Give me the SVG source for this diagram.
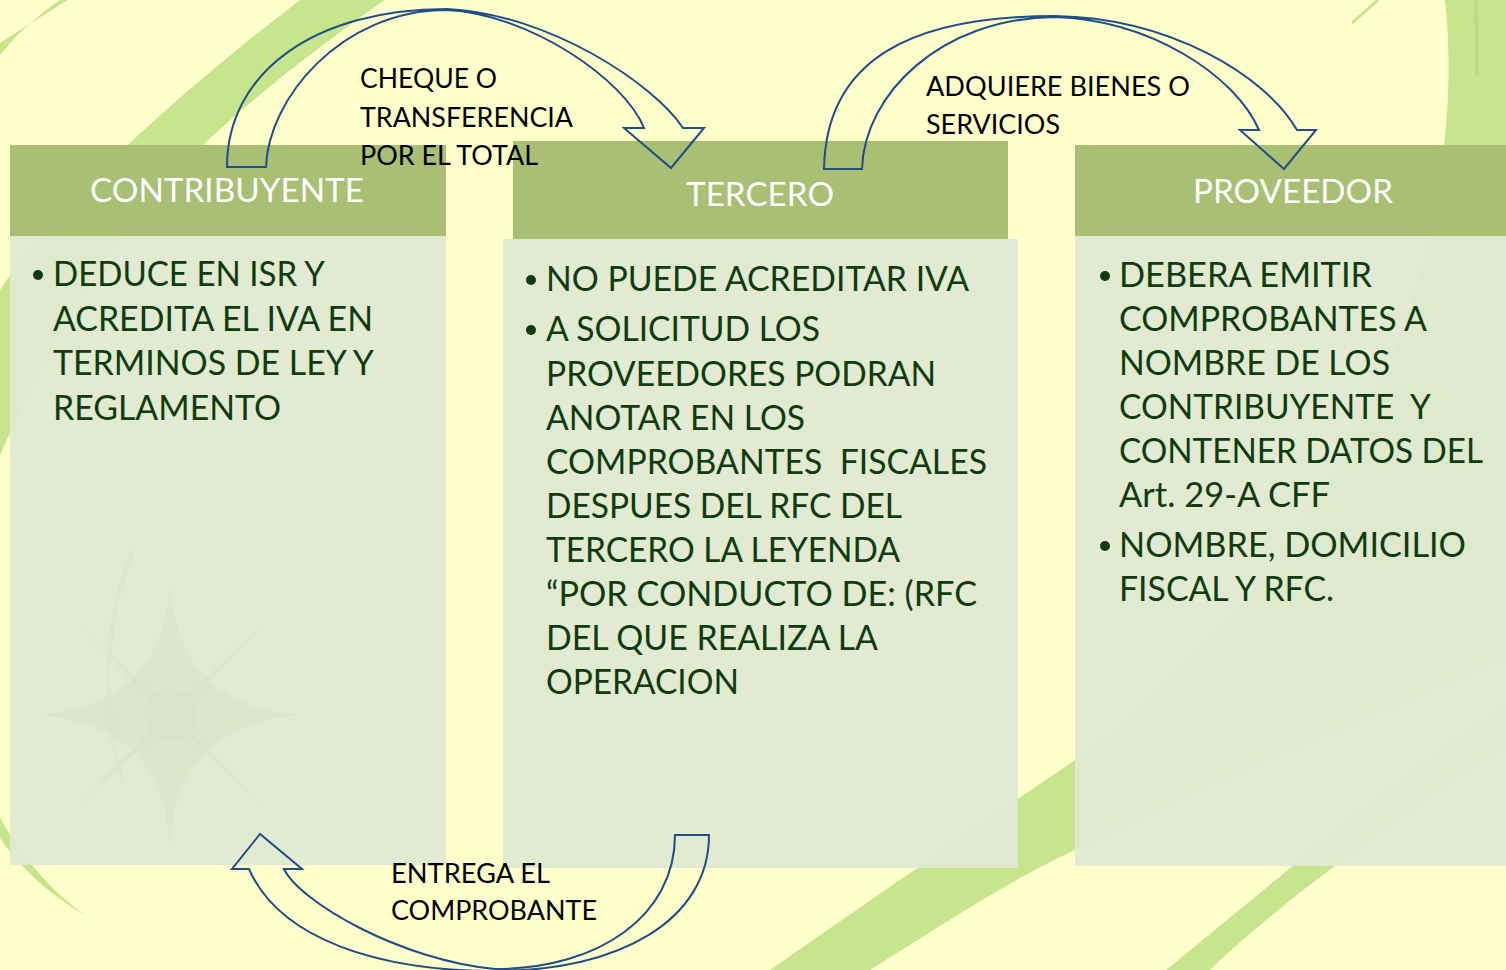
<svg xmlns="http://www.w3.org/2000/svg" width="1506" height="970" viewBox="0 0 1506 970">
<defs>
<style>
.band{fill:#c7e58c}
.hdrbox{fill:#a8bf74}
.bodybox{fill:#e0e9d2;fill-opacity:0.95}
.hdr{font-family:Lato,'Open Sans',sans-serif;font-size:33px;fill:#ffffff}
.txt{font-family:Lato,'Open Sans',sans-serif;font-size:34px;fill:#0e3c0e}
.lbl{font-family:Lato,'Open Sans',sans-serif;font-size:27px;fill:#000000}
.bul{fill:#0e3c0e}
.arrow{fill:none;stroke:#1f4e89;stroke-width:2;stroke-linejoin:miter}
</style>
</defs>
<g id="background">
<rect x="0" y="0" width="1506" height="970" fill="#ffffcc"/>
<path class="band" d="M0,43 C20,30 45,14 68,0 L60,0 C40,14 20,30 0,55 Z"/>
<path class="band" d="M300,0 L385,0 C300,60 180,150 110,250 C60,320 30,390 0,455 L0,290 C60,200 170,100 300,0 Z"/>
<path class="band" d="M0,818 C25,860 50,890 85,915 C50,895 20,868 0,838 Z"/>
<path class="band" d="M1445,0 C1452,60 1450,150 1427,240 C1400,400 1250,640 1075,760 C980,825 870,900 770,970 L870,970 C950,920 1010,880 1075,850 C1250,760 1420,700 1506,657 L1506,0 Z"/>
<path class="band" d="M1160,975 C1240,910 1380,790 1506,705 L1506,745 C1400,815 1270,910 1205,975 Z"/>
<path d="M1352,23 L1378,0" stroke="#c7e58c" stroke-width="3" fill="none"/>
<path d="M1476,0 L1477,75" stroke="#b5dc7c" stroke-width="3" fill="none"/>
</g>
<g id="contribuyente">
<rect class="hdrbox" x="10" y="145" width="436" height="91"/>
<rect class="bodybox" x="10" y="236" width="436" height="629"/>
<g fill="#d4e2c4" fill-opacity="0.45">
<path d="M170,583 Q176,705 300,715 Q176,725 170,847 Q164,725 40,715 Q164,705 170,583 Z"/>
<path d="M77,623 Q175,712 265,808 Q165,718 77,623 Z"/>
<path d="M265,623 Q175,718 77,808 Q165,712 265,623 Z"/>
<circle cx="170" cy="715" r="26"/>
</g>
<path d="M133,550 C105,620 100,710 123,783" stroke="#d8e5c8" stroke-width="4" fill="none" stroke-opacity="0.6"/>
<text class="hdr" x="90" y="202" textLength="274" lengthAdjust="spacingAndGlyphs">CONTRIBUYENTE</text>
<circle class="bul" cx="38" cy="275" r="5"/>
<text class="txt" x="53" y="286" textLength="272" lengthAdjust="spacingAndGlyphs">DEDUCE EN ISR Y</text>
<text class="txt" x="53" y="330.5" textLength="320" lengthAdjust="spacingAndGlyphs">ACREDITA EL IVA EN</text>
<text class="txt" x="53" y="375" textLength="321" lengthAdjust="spacingAndGlyphs">TERMINOS DE LEY Y</text>
<text class="txt" x="53" y="419.5" textLength="228" lengthAdjust="spacingAndGlyphs">REGLAMENTO</text>
</g>
<g id="tercero">
<rect class="hdrbox" x="513" y="141" width="495" height="98"/>
<rect class="bodybox" x="503" y="239" width="515" height="629"/>
<text class="hdr" x="686" y="206" textLength="148" lengthAdjust="spacingAndGlyphs">TERCERO</text>
<circle class="bul" cx="531" cy="280" r="5"/>
<text class="txt" x="546" y="291" textLength="423" lengthAdjust="spacingAndGlyphs">NO PUEDE ACREDITAR IVA</text>
<circle class="bul" cx="531" cy="330" r="5"/>
<text class="txt" x="546" y="341" textLength="274" lengthAdjust="spacingAndGlyphs">A SOLICITUD LOS</text>
<text class="txt" x="546" y="386" textLength="390" lengthAdjust="spacingAndGlyphs">PROVEEDORES PODRAN</text>
<text class="txt" x="546" y="430" textLength="259" lengthAdjust="spacingAndGlyphs">ANOTAR EN LOS</text>
<text class="txt" x="546" y="474" textLength="441" lengthAdjust="spacingAndGlyphs" xml:space="preserve">COMPROBANTES  FISCALES</text>
<text class="txt" x="546" y="518" textLength="356" lengthAdjust="spacingAndGlyphs">DESPUES DEL RFC DEL</text>
<text class="txt" x="546" y="562" textLength="354" lengthAdjust="spacingAndGlyphs">TERCERO LA LEYENDA</text>
<text class="txt" x="546" y="606" textLength="431" lengthAdjust="spacingAndGlyphs">“POR CONDUCTO DE: (RFC</text>
<text class="txt" x="546" y="650" textLength="332" lengthAdjust="spacingAndGlyphs">DEL QUE REALIZA LA</text>
<text class="txt" x="546" y="694" textLength="193" lengthAdjust="spacingAndGlyphs">OPERACION</text>
</g>
<g id="proveedor">
<rect class="hdrbox" x="1075" y="145" width="431" height="91"/>
<rect class="bodybox" x="1075" y="236" width="431" height="630"/>
<text class="hdr" x="1193" y="203" textLength="200" lengthAdjust="spacingAndGlyphs">PROVEEDOR</text>
<circle class="bul" cx="1105" cy="276" r="5"/>
<text class="txt" x="1119" y="287" textLength="253" lengthAdjust="spacingAndGlyphs">DEBERA EMITIR</text>
<text class="txt" x="1119" y="331" textLength="308" lengthAdjust="spacingAndGlyphs">COMPROBANTES A</text>
<text class="txt" x="1119" y="375" textLength="271" lengthAdjust="spacingAndGlyphs">NOMBRE DE LOS</text>
<text class="txt" x="1119" y="419" textLength="312" lengthAdjust="spacingAndGlyphs" xml:space="preserve">CONTRIBUYENTE  Y</text>
<text class="txt" x="1119" y="463" textLength="364" lengthAdjust="spacingAndGlyphs">CONTENER DATOS DEL</text>
<text class="txt" x="1119" y="507" textLength="211" lengthAdjust="spacingAndGlyphs">Art. 29-A CFF</text>
<circle class="bul" cx="1105" cy="546" r="5"/>
<text class="txt" x="1119" y="557" textLength="347" lengthAdjust="spacingAndGlyphs">NOMBRE, DOMICILIO</text>
<text class="txt" x="1119" y="601" textLength="215" lengthAdjust="spacingAndGlyphs">FISCAL Y RFC.</text>
</g>
<g id="connectors">
<path class="arrow" d="M266,167 L227,167 C227,72 315,9 447,9 C550,14 655,85 683,128 L704,128 L671,168 L624,128 L644,128 C625,80 530,14 447,10 C340,10 268,100 266,167 Z"/>
<path class="arrow" d="M862,169 L824,169 C826,60 910,16 1055,16 C1170,18 1265,75 1297,130 L1316,130 L1284,169 L1240,130 L1259,130 C1235,75 1150,20 1055,17 C940,18 864,95 862,169 Z"/>
<path class="arrow" d="M709,835 L675,835 C675,915 600,969 495,969 C400,960 300,902 284,869 L302,869 L260,834 L232,869 L249,869 C280,940 380,971 495,971 C620,971 709,920 709,835 Z"/>
<text class="lbl" x="360" y="88" textLength="137" lengthAdjust="spacingAndGlyphs">CHEQUE O</text>
<text class="lbl" x="360" y="127" textLength="213" lengthAdjust="spacingAndGlyphs">TRANSFERENCIA</text>
<text class="lbl" x="360" y="165" textLength="178" lengthAdjust="spacingAndGlyphs">POR EL TOTAL</text>
<text class="lbl" x="926" y="96" textLength="264" lengthAdjust="spacingAndGlyphs">ADQUIERE BIENES O</text>
<text class="lbl" x="926" y="134" textLength="134" lengthAdjust="spacingAndGlyphs">SERVICIOS</text>
<text class="lbl" x="391" y="883" textLength="159" lengthAdjust="spacingAndGlyphs">ENTREGA EL</text>
<text class="lbl" x="391" y="920" textLength="206" lengthAdjust="spacingAndGlyphs">COMPROBANTE</text>
</g>
</svg>
